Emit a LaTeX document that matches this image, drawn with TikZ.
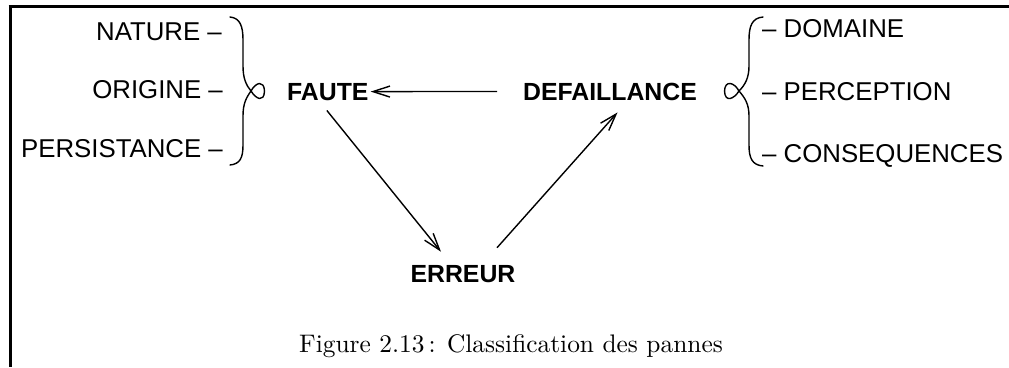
\documentclass[tikz,border=0pt]{standalone}
\usepackage{fontspec}
\newfontfamily\capfont{lmroman10-regular}[Extension=.otf]
\newfontfamily\labelfont{Liberation Sans}
\usetikzlibrary{arrows.meta,calc}

\tikzset{
  frame/.style={line width=2.6pt},
  item/.style={inner sep=0pt, font=\labelfont\fontsize{25.8}{28}\selectfont},
  concept/.style={inner sep=0pt, font=\labelfont\bfseries\fontsize{24.8}{28}\selectfont},
  captiontext/.style={inner sep=0pt, font=\capfont\fontsize{25.4}{30}\selectfont},
  arr/.style={line width=1.4pt, -{Straight Barb[length=17pt,width=11pt,line width=1.4pt]}},
  brace/.style={line width=1.4pt, line cap=round, line join=round}
}

\begin{document}
\begin{tikzpicture}[x=1pt,y=-1pt]
  \useasboundingbox (0,0) rectangle (1009,367);

  % open frame: top and left edges only
  \draw[frame] (8.5,6.5) -- (1009,6.5);
  \draw[frame] (10.5,6.5) -- (10.5,367);

  % attributes of a fault
  \node[item, anchor=base east] (nature) at (222,40) {NATURE –};
  \node[item, anchor=base east] (origine) at (223,98) {ORIGINE –};
  \node[item, anchor=base east] (persist) at (223,157) {PERSISTANCE –};

  % attributes of a failure
  \node[item, anchor=base west] (domaine) at (762,37) {– DOMAINE};
  \node[item, anchor=base west] (perception) at (762,100) {– PERCEPTION};
  \node[item, anchor=base west] (consequences) at (762,162) {– CONSEQUENCES};

  % the three concepts
  \node[concept, anchor=base west] (faute) at (287,100) {FAUTE};
  \node[concept, anchor=base west] (defaillance) at (523,100) {DEFAILLANCE};
  \node[concept, anchor=base] (erreur) at (463,282) {ERREUR};

  % left brace with a loop at its point
  \draw[brace] (230,17) .. controls (240,18) and (243,26) .. (243,40)
    -- (243,66) .. controls (243,78) and (246,85) .. (251,91)
    .. controls (256,99) and (264,103) .. (264.5,91)
    .. controls (264,80) and (256,82) .. (251,91)
    .. controls (246,98) and (243,104) .. (243,116)
    -- (243,145) .. controls (243,158) and (240,164) .. (230,165);

  % right brace with a loop at its point
  \draw[brace] (763,17) .. controls (752,18) and (749,26) .. (749,40)
    -- (749,66) .. controls (749,78) and (745,85) .. (739,91)
    .. controls (734,99) and (725,103) .. (724.5,91)
    .. controls (725,80) and (734,82) .. (739,91)
    .. controls (745,98) and (749,104) .. (749,116)
    -- (749,145) .. controls (749,158) and (752,165) .. (763,166);

  % cycle of the impairments
  \draw[arr] ([shift={(-26,0)}]defaillance.west) -- ([shift={(2,0)}]faute.east);
  \draw[arr] ([shift={(-1,10)}]faute.south) -- ([shift={(-22,-13)}]erreur.north);
  \draw[arr] ([shift={(34,-17)}]erreur.north) -- ([shift={(7.5,12)}]defaillance.south);

  % caption
  \node[captiontext, anchor=base] (caption) at (511,352) {Figure 2.13\,: Classification des pannes};
\end{tikzpicture}
\end{document}
